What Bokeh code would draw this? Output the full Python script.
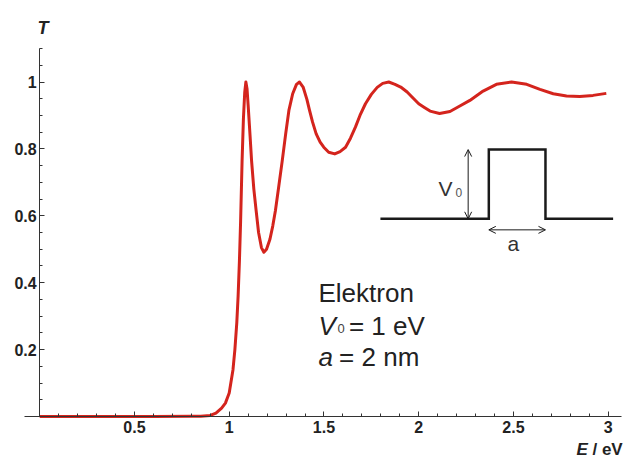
from bokeh.plotting import figure
from bokeh.models import FixedTicker, Label, Arrow, OpenHead, Range1d
from bokeh.embed import file_html
from bokeh.resources import INLINE

# Transmission curve
E = [0.0, 0.2, 0.4, 0.6, 0.8, 0.85, 0.9, 0.93, 0.96, 0.98, 1.0, 1.02, 1.03, 1.04,
     1.047, 1.054, 1.06, 1.068, 1.075, 1.082, 1.088, 1.094, 1.1, 1.11, 1.118, 1.13,
     1.142, 1.155, 1.17, 1.183, 1.197, 1.215, 1.23, 1.244, 1.262, 1.28, 1.298, 1.315,
     1.335, 1.355, 1.371, 1.39, 1.41, 1.424, 1.44, 1.459, 1.48, 1.499, 1.525, 1.557,
     1.585, 1.614, 1.64, 1.666, 1.69, 1.719, 1.75, 1.781, 1.81, 1.842, 1.875, 1.905,
     1.939, 1.97, 2.0, 2.03, 2.06, 2.11, 2.165, 2.21, 2.27, 2.34, 2.41, 2.49, 2.57,
     2.64, 2.71, 2.78, 2.85, 2.92, 2.99]
T = [0.0, 0.0, 0.0, 0.0, 0.0005, 0.001, 0.003, 0.01, 0.025, 0.04, 0.07, 0.14, 0.2, 0.28,
     0.36, 0.466, 0.58, 0.765, 0.89, 0.97, 1.0, 0.98, 0.93, 0.84, 0.765, 0.68,
     0.616, 0.55, 0.505, 0.491, 0.5, 0.53, 0.57, 0.616, 0.69, 0.765, 0.845, 0.915,
     0.965, 0.993, 1.0, 0.985, 0.948, 0.915, 0.88, 0.845, 0.82, 0.805, 0.79, 0.785,
     0.792, 0.805, 0.832, 0.865, 0.9, 0.935, 0.963, 0.984, 0.996, 1.0, 0.993, 0.985,
     0.97, 0.952, 0.935, 0.924, 0.913, 0.906, 0.912, 0.926, 0.945, 0.973, 0.993, 1.0, 0.993,
     0.978, 0.965, 0.958, 0.957, 0.96, 0.966]

x_ticks = [0.5, 1.0, 1.5, 2.0, 2.5, 3.0]
x_tick_labels = ["0.5", "1", "1.5", "2", "2.5", "3"]
x_minor = [0.1, 0.2, 0.3, 0.4, 0.6, 0.7, 0.8, 0.9, 1.1, 1.2, 1.3, 1.4, 1.6, 1.7, 1.8, 1.9,
           2.1, 2.2, 2.3, 2.4, 2.6, 2.7, 2.8, 2.9]
y_ticks = [0.2, 0.4, 0.6, 0.8, 1.0]
y_tick_labels = ["0.2", "0.4", "0.6", "0.8", "1"]
y_minor = [0.05, 0.1, 0.15, 0.25, 0.3, 0.35, 0.45, 0.5, 0.55, 0.65, 0.7, 0.75,
           0.85, 0.9, 0.95, 1.05, 1.1]

# Inset: rectangular barrier sketch
barrier_x = [1.798, 2.370, 2.370, 2.669, 2.669, 3.026]
barrier_y = [0.591, 0.591, 0.798, 0.798, 0.591, 0.591]

FONT = "Liberation Sans"
RED = "#d4241d"
AX = "#333333"
TXT = "#222222"

p = figure(frame_width=626, frame_height=459,
           x_range=Range1d(-0.2069, 3.0966), y_range=Range1d(-0.1286, 1.2437),
           output_backend="svg", toolbar_location=None,
           min_border_left=0, min_border_right=0, min_border_top=0, min_border_bottom=0)
p.outline_line_color = None
p.xgrid.visible = False
p.ygrid.visible = False
p.background_fill_color = "white"
p.border_fill_color = "white"

p.xaxis.fixed_location = 0
p.yaxis.fixed_location = 0
p.xaxis.bounds = (-0.08, 3.07)
p.yaxis.bounds = (0, 1.1)
p.xaxis.ticker = FixedTicker(ticks=x_ticks, minor_ticks=x_minor)
p.yaxis.ticker = FixedTicker(ticks=y_ticks, minor_ticks=y_minor)
p.xaxis.major_label_overrides = {t: l for t, l in zip(x_ticks, x_tick_labels)}
p.yaxis.major_label_overrides = {t: l for t, l in zip(y_ticks, y_tick_labels)}
for ax in (p.xaxis, p.yaxis):
    ax.axis_line_color = AX
    ax.axis_line_width = 1
    ax.major_tick_line_color = AX
    ax.minor_tick_line_color = AX
    ax.major_tick_in = 5
    ax.major_tick_out = 0
    ax.minor_tick_in = 3
    ax.minor_tick_out = 0
    ax.major_label_text_font = FONT
    ax.major_label_text_font_style = "bold"
    ax.major_label_text_font_size = "16px"
    ax.major_label_text_color = TXT
p.xaxis.major_label_standoff = 5
p.yaxis.major_label_standoff = 3

p.line(E, T, line_width=3, color=RED, line_join="round")

# barrier sketch
p.line(barrier_x, barrier_y, line_width=2.5, color="#1a1a1a", line_join="miter")
p.add_layout(Arrow(x_start=2.261, y_start=0.591, x_end=2.261, y_end=0.798,
                   start=OpenHead(size=7, line_width=1, line_color="#1a1a1a"),
                   end=OpenHead(size=7, line_width=1, line_color="#1a1a1a"),
                   line_width=1, line_color="#1a1a1a"))
p.add_layout(Arrow(x_start=2.370, y_start=0.558, x_end=2.669, y_end=0.558,
                   start=OpenHead(size=7, line_width=1, line_color="#1a1a1a"),
                   end=OpenHead(size=7, line_width=1, line_color="#1a1a1a"),
                   line_width=1, line_color="#1a1a1a"))

def lab(x, y, text, size, style="normal", align="left", color=TXT):
    p.add_layout(Label(x=x, y=y, text=text, text_font=FONT, text_font_size=size,
                       text_font_style=style, text_align=align, text_baseline="alphabetic",
                       text_color=color))

lab(2.104, 0.682, "V", "21px", color="#333333")
lab(2.194, 0.670, "0", "12px", color="#555555")
lab(2.500, 0.517, "a", "21px", align="center", color="#333333")

# text block
lab(1.471, 0.368, "Elektron", "26px")
lab(1.471, 0.272, "V", "26px", style="italic")
lab(1.571, 0.262, "0", "13px", color="#444444")
lab(1.632, 0.272, "= 1 eV", "26px")
lab(1.471, 0.179, "a", "26px", style="italic")
lab(1.580, 0.179, "= 2 nm", "26px")

# axis titles
lab(-0.012, 1.160, "T", "18px", style="bold italic")
lab(2.833, -0.0987, "E", "17px", style="bold italic")
lab(2.917, -0.0987, "/ eV", "17px", style="bold")

open("out.html", "w").write(file_html(p, INLINE))
